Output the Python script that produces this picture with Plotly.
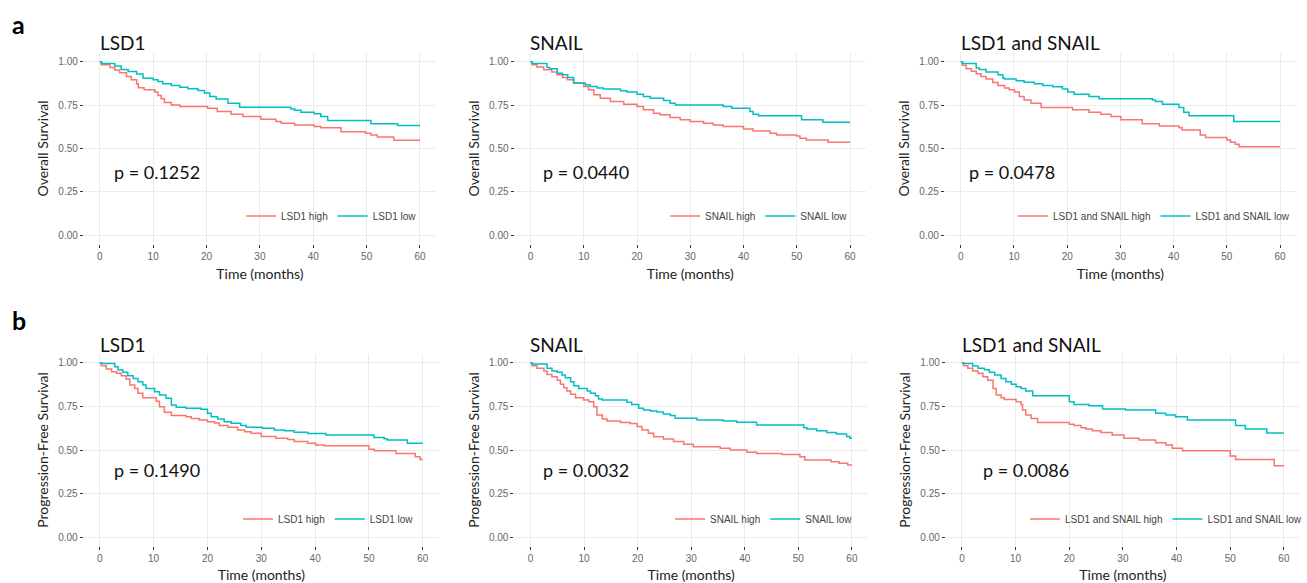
import plotly.graph_objects as go
from plotly.subplots import make_subplots

# ---------------- data ----------------
os_lsd1_high_t = [0, 0.3, 1.9, 2.8, 3.7, 5.0, 5.9, 6.9, 7.2, 8.3, 10.3, 10.9, 11.5, 12.1, 13.4, 15.0, 20.2, 22.0, 24.6, 26.8, 30.2, 33.0, 34.0, 36.5, 40.2, 41.4, 45.2, 49.8, 50.8, 52.0, 55.1, 60]
os_lsd1_high_s = [1.0, 0.983, 0.967, 0.952, 0.936, 0.915, 0.896, 0.873, 0.85, 0.838, 0.825, 0.805, 0.786, 0.765, 0.751, 0.742, 0.732, 0.713, 0.697, 0.684, 0.669, 0.655, 0.645, 0.636, 0.626, 0.62, 0.597, 0.588, 0.578, 0.566, 0.547, 0.547]
os_lsd1_low_t = [0, 0.3, 2.8, 4.0, 5.3, 6.9, 8.1, 10.0, 10.9, 11.8, 13.4, 15.0, 16.5, 18.4, 19.6, 20.6, 21.8, 24.0, 26.2, 35.8, 36.5, 37.7, 40.2, 41.4, 42.7, 50.8, 55.8, 60]
os_lsd1_low_s = [1.0, 0.99, 0.975, 0.955, 0.944, 0.929, 0.905, 0.896, 0.886, 0.873, 0.863, 0.853, 0.844, 0.834, 0.819, 0.8, 0.785, 0.761, 0.738, 0.728, 0.72, 0.709, 0.7, 0.684, 0.661, 0.642, 0.633, 0.633]

os_snail_high_t = [0, 0.3, 1.2, 2.5, 4.0, 5.0, 6.0, 6.9, 8.1, 10.0, 10.9, 11.9, 13.1, 15.0, 17.5, 20.0, 21.2, 23.1, 24.3, 26.2, 28.1, 30.0, 32.5, 34.3, 36.2, 40.0, 41.8, 45.0, 46.2, 50.0, 50.6, 51.8, 55.9, 60]
os_snail_high_s = [1.0, 0.983, 0.97, 0.954, 0.94, 0.925, 0.909, 0.896, 0.877, 0.857, 0.838, 0.809, 0.79, 0.77, 0.755, 0.742, 0.723, 0.703, 0.694, 0.678, 0.665, 0.655, 0.645, 0.636, 0.626, 0.613, 0.601, 0.588, 0.578, 0.572, 0.559, 0.549, 0.536, 0.536]
os_snail_low_t = [0, 0.3, 3.1, 3.6, 5.0, 6.0, 7.0, 8.1, 10.3, 11.2, 12.5, 13.7, 16.9, 18.1, 20.0, 21.2, 22.5, 25.0, 26.2, 27.2, 36.2, 37.8, 41.2, 41.8, 42.8, 50.9, 54.9, 60]
os_snail_low_s = [1.0, 0.99, 0.967, 0.96, 0.934, 0.925, 0.909, 0.877, 0.867, 0.857, 0.848, 0.842, 0.832, 0.825, 0.813, 0.8, 0.79, 0.776, 0.761, 0.751, 0.742, 0.732, 0.713, 0.697, 0.688, 0.665, 0.651, 0.651]

os_both_high_t = [0, 0.3, 1.0, 2.0, 2.9, 3.8, 4.75, 6.0, 7.0, 8.2, 9.1, 10.1, 11.0, 11.9, 13.2, 15.1, 21.0, 24.1, 26.3, 28.2, 30.1, 34.1, 37.3, 41.0, 41.6, 45.0, 46.0, 50.0, 50.7, 51.6, 52.3, 60]
os_both_high_s = [1.0, 0.979, 0.96, 0.945, 0.93, 0.915, 0.9, 0.88, 0.863, 0.848, 0.838, 0.825, 0.8, 0.78, 0.761, 0.736, 0.723, 0.709, 0.697, 0.684, 0.665, 0.642, 0.63, 0.62, 0.607, 0.578, 0.563, 0.549, 0.536, 0.524, 0.51, 0.51]
os_both_low_t = [0, 0.3, 2.9, 3.5, 4.75, 7.0, 7.9, 8.2, 10.4, 11.9, 13.8, 15.4, 17.3, 19.1, 20.1, 21.3, 24.1, 26.0, 36.0, 36.6, 37.9, 41.0, 41.9, 42.9, 51.3, 60]
os_both_low_s = [1.0, 0.99, 0.963, 0.955, 0.94, 0.925, 0.906, 0.9, 0.89, 0.882, 0.873, 0.863, 0.855, 0.842, 0.825, 0.813, 0.8, 0.786, 0.78, 0.77, 0.755, 0.736, 0.709, 0.688, 0.655, 0.655]

pfs_lsd1_high_t = [0, 0.3, 1.2, 2.2, 3.1, 4.0, 4.9, 5.6, 6.5, 7.1, 8.0, 10.5, 11.1, 12.0, 13.3, 16.0, 17.0, 18.5, 20.0, 21.3, 22.2, 23.8, 25.6, 26.9, 28.1, 30.0, 32.7, 34.9, 36.1, 38.6, 40.1, 41.7, 50.0, 51.0, 55.0, 58.6, 59.5, 60]
pfs_lsd1_high_s = [1.0, 0.983, 0.964, 0.949, 0.94, 0.926, 0.907, 0.872, 0.853, 0.825, 0.8, 0.78, 0.748, 0.716, 0.697, 0.69, 0.681, 0.672, 0.662, 0.655, 0.64, 0.63, 0.615, 0.605, 0.596, 0.577, 0.567, 0.56, 0.548, 0.538, 0.529, 0.525, 0.505, 0.495, 0.48, 0.462, 0.445, 0.445]
pfs_lsd1_low_t = [0, 0.3, 2.8, 3.4, 4.3, 5.2, 6.2, 7.1, 8.0, 8.6, 10.2, 11.1, 12.3, 13.3, 14.2, 16.0, 18.8, 20.0, 20.7, 21.9, 23.1, 24.4, 26.2, 27.2, 30.2, 32.4, 34.3, 36.1, 38.6, 42.0, 50.9, 52.8, 53.4, 57.1, 60]
pfs_lsd1_low_s = [1.0, 0.996, 0.977, 0.958, 0.945, 0.926, 0.91, 0.891, 0.872, 0.853, 0.834, 0.815, 0.796, 0.758, 0.745, 0.739, 0.733, 0.71, 0.691, 0.677, 0.662, 0.653, 0.64, 0.63, 0.625, 0.615, 0.61, 0.601, 0.595, 0.586, 0.571, 0.565, 0.557, 0.538, 0.538]

pfs_snail_high_t = [0, 0.3, 1.2, 2.5, 3.1, 4.0, 5.0, 5.6, 6.2, 6.8, 7.5, 8.4, 9.9, 10.9, 11.8, 12.4, 13.4, 14.3, 16.8, 18.6, 19.9, 20.8, 22.0, 23.0, 24.8, 26.7, 28.6, 30.4, 35.4, 37.3, 40.4, 42.2, 47.0, 50.3, 51.2, 56.1, 57.6, 59.2, 60]
pfs_snail_high_s = [1.0, 0.983, 0.968, 0.952, 0.933, 0.92, 0.9, 0.876, 0.857, 0.838, 0.819, 0.8, 0.787, 0.777, 0.748, 0.7, 0.677, 0.666, 0.658, 0.652, 0.634, 0.615, 0.596, 0.576, 0.563, 0.548, 0.533, 0.519, 0.51, 0.5, 0.487, 0.48, 0.474, 0.462, 0.443, 0.433, 0.424, 0.414, 0.414]
pfs_snail_low_t = [0, 0.3, 3.1, 4.0, 5.0, 5.9, 6.5, 7.5, 8.1, 9.0, 10.6, 11.2, 12.1, 12.7, 13.4, 18.0, 18.9, 20.2, 21.1, 22.4, 23.6, 24.8, 26.1, 27.0, 31.1, 36.0, 38.5, 42.2, 51.0, 51.6, 53.4, 55.3, 57.1, 59.0, 59.6, 60]
pfs_snail_low_s = [1.0, 0.993, 0.968, 0.952, 0.945, 0.93, 0.914, 0.891, 0.868, 0.853, 0.838, 0.825, 0.811, 0.792, 0.786, 0.773, 0.76, 0.739, 0.729, 0.724, 0.717, 0.706, 0.697, 0.682, 0.672, 0.666, 0.659, 0.643, 0.628, 0.62, 0.61, 0.6, 0.592, 0.577, 0.567, 0.567]

pfs_both_high_t = [0, 0.3, 1.1, 2.0, 3.0, 3.9, 4.8, 5.8, 6.4, 7.3, 7.9, 10.1, 11.0, 11.3, 11.9, 12.9, 14.1, 20.0, 20.9, 22.2, 23.1, 24.3, 25.9, 28.0, 30.2, 33.0, 36.1, 38.0, 39.2, 41.1, 50.0, 51.0, 58.2, 60]
pfs_both_high_s = [1.0, 0.983, 0.968, 0.952, 0.939, 0.92, 0.9, 0.853, 0.815, 0.8, 0.79, 0.777, 0.761, 0.729, 0.7, 0.68, 0.658, 0.647, 0.64, 0.628, 0.62, 0.61, 0.6, 0.586, 0.567, 0.557, 0.542, 0.529, 0.51, 0.495, 0.465, 0.445, 0.41, 0.41]
pfs_both_low_t = [0, 0.3, 2.0, 3.0, 4.2, 5.1, 6.1, 7.3, 8.2, 9.2, 10.1, 11.0, 11.9, 13.2, 20.0, 20.9, 23.7, 26.2, 30.5, 36.1, 38.0, 39.8, 42.0, 51.0, 52.8, 56.8, 60]
pfs_both_low_s = [1.0, 0.996, 0.981, 0.968, 0.96, 0.945, 0.93, 0.91, 0.891, 0.876, 0.863, 0.853, 0.838, 0.811, 0.777, 0.761, 0.754, 0.735, 0.729, 0.71, 0.7, 0.691, 0.672, 0.64, 0.62, 0.598, 0.598]

panel_titles = ["LSD1", "SNAIL", "LSD1 and SNAIL", "LSD1", "SNAIL", "LSD1 and SNAIL"]
group_names = ["LSD1", "SNAIL", "LSD1 and SNAIL", "LSD1", "SNAIL", "LSD1 and SNAIL"]
p_values = ["p = 0.1252", "p = 0.0440", "p = 0.0478", "p = 0.1490", "p = 0.0032", "p = 0.0086"]
p_x = [2.2, 1.9, 1.1, 2.2, 1.9, 3.6]
p_y = [0.364, 0.366, 0.366, 0.385, 0.385, 0.385]
y_titles = ["Overall Survival"] * 3 + ["Progression-Free Survival"] * 3
x_ticks = [0, 10, 20, 30, 40, 50, 60]
y_ticks = [0.0, 0.25, 0.5, 0.75, 1.0]
y_tick_labels = ["0.00", "0.25", "0.50", "0.75", "1.00"]

curves = [
    (os_lsd1_high_t, os_lsd1_high_s, os_lsd1_low_t, os_lsd1_low_s),
    (os_snail_high_t, os_snail_high_s, os_snail_low_t, os_snail_low_s),
    (os_both_high_t, os_both_high_s, os_both_low_t, os_both_low_s),
    (pfs_lsd1_high_t, pfs_lsd1_high_s, pfs_lsd1_low_t, pfs_lsd1_low_s),
    (pfs_snail_high_t, pfs_snail_high_s, pfs_snail_low_t, pfs_snail_low_s),
    (pfs_both_high_t, pfs_both_high_s, pfs_both_low_t, pfs_both_low_s),
]

# ---------------- styling / layout ----------------
W, H = 1307, 583
RED = "#F8766D"
CYAN = "#00BFC4"
GRID = "#EBEBEB"
TITLE_FONT = "Lato"
TICK_FONT = "Liberation Sans"

# pixel boxes of the panels: (left, right, top, bottom)
boxes = [
    (84, 437, 53, 244), (515.7, 868, 53, 244), (947, 1299, 53, 244),
    (83.8, 440, 354, 546), (515.6, 870, 354, 546), (948, 1303, 354, 546),
]
# legends: (right px, center y px)
legend_pos = [(423, 216), (855, 216), (1298, 216), (420, 519), (860, 519), (1310, 519)]

fig = make_subplots(rows=2, cols=3)

for i, (ht, hs, lt, ls) in enumerate(curves):
    r, c = i // 3 + 1, i % 3 + 1
    lg = "legend" if i == 0 else f"legend{i+1}"
    fig.add_trace(go.Scatter(x=ht, y=hs, mode="lines", line=dict(color=RED, width=1.5, shape="hv"),
                             name=f"{group_names[i]} high", legend=lg), row=r, col=c)
    fig.add_trace(go.Scatter(x=lt, y=ls, mode="lines", line=dict(color=CYAN, width=1.5, shape="hv"),
                             name=f"{group_names[i]} low", legend=lg), row=r, col=c)

layout_upd = {}
annotations = []
for i, (l, rgt, t, b) in enumerate(boxes):
    sfx = "" if i == 0 else str(i + 1)
    layout_upd[f"xaxis{sfx}"] = dict(
        domain=[l / W, rgt / W], range=[-3, 63], tickvals=x_ticks, ticks="outside", ticklen=3,
        tickcolor="#333", tickwidth=1, showline=False, zeroline=False, showgrid=True,
        gridcolor=GRID, gridwidth=1, tickfont=dict(family=TICK_FONT, size=10, color="#666"),
        title=dict(text="Time (months)", font=dict(family=TITLE_FONT, size=14, color="#222"), standoff=8),
        fixedrange=True, automargin=False,
    )
    layout_upd[f"yaxis{sfx}"] = dict(
        domain=[1 - b / H, 1 - t / H], range=[-0.05, 1.05], tickvals=y_ticks, ticktext=y_tick_labels,
        ticks="outside", ticklen=3, tickcolor="#333", tickwidth=1, showline=False, zeroline=False,
        showgrid=True, gridcolor=GRID, gridwidth=1,
        tickfont=dict(family=TICK_FONT, size=10, color="#666"),
        title=dict(text=y_titles[i], font=dict(family=TITLE_FONT, size=14, color="#222"), standoff=6),
        fixedrange=True, automargin=False,
    )
    lx, ly = legend_pos[i]
    lname = "legend" if i == 0 else f"legend{i+1}"
    layout_upd[lname] = dict(
        orientation="h", x=lx / W, y=1 - ly / H, xanchor="right", yanchor="middle",
        bgcolor="rgba(0,0,0,0)", font=dict(family=TICK_FONT, size=10, color="#444"),
        itemwidth=30, tracegroupgap=0,
    )
    # panel title
    annotations.append(dict(text=panel_titles[i], xref="paper", yref="paper",
                            x=(l + 14) / W, y=1 - (t - 10) / H, xanchor="left", yanchor="middle",
                            showarrow=False, font=dict(family=TITLE_FONT, size=19, color="#111")))
    # p value
    annotations.append(dict(text=p_values[i], xref=f"x{sfx}", yref=f"y{sfx}", x=p_x[i], y=p_y[i],
                            xanchor="left", yanchor="middle", showarrow=False,
                            font=dict(family=TITLE_FONT, size=18, color="#111")))

annotations.append(dict(text="<b>a</b>", xref="paper", yref="paper", x=10 / W, y=1 - 24 / H,
                        xanchor="left", yanchor="middle", showarrow=False,
                        font=dict(family=TITLE_FONT, size=25, color="#000")))
annotations.append(dict(text="<b>b</b>", xref="paper", yref="paper", x=10 / W, y=1 - 320 / H,
                        xanchor="left", yanchor="middle", showarrow=False,
                        font=dict(family=TITLE_FONT, size=25, color="#000")))

fig.update_layout(**layout_upd)
fig.update_layout(
    width=W, height=H, margin=dict(l=0, r=0, t=0, b=0),
    paper_bgcolor="white", plot_bgcolor="white", showlegend=True,
    annotations=annotations,
)

# remove the browser's default 8px page margin so the figure fills the window exactly
fig.write_html(
    "out.html",
    config={"displayModeBar": False},
    post_script="document.body.style.margin='0';document.body.style.overflow='hidden';",
)
